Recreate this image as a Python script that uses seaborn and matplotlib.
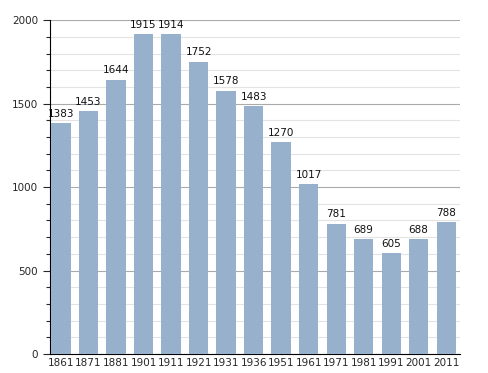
import matplotlib
matplotlib.use("Agg")
import matplotlib.pyplot as plt
import seaborn as sns
import pandas as pd
from matplotlib.ticker import MultipleLocator

years = ["1861", "1871", "1881", "1901", "1911", "1921", "1931", "1936",
         "1951", "1961", "1971", "1981", "1991", "2001", "2011"]
population = [1383, 1453, 1644, 1915, 1914, 1752, 1578, 1483,
              1270, 1017, 781, 689, 605, 688, 788]

df = pd.DataFrame({"year": years, "pop": population})

sns.set_style("white")
plt.rcParams['font.family'] = ['DejaVu Sans']

fig = plt.figure(figsize=(4.88, 3.73), dpi=100)
ax = fig.add_axes([0.1025, 0.051, 0.84, 0.895])

sns.barplot(x="year", y="pop", data=df, color="#97b0cc", width=0.7,
            saturation=1, ax=ax, linewidth=0, edgecolor="none")
for p in ax.patches:
    p.set_zorder(3)

for i, v in enumerate(population):
    ax.text(i, v + 25, str(v), ha="center", va="bottom", fontsize=7.5,
            color="#111111", zorder=4)

ax.set_ylim(0, 2000)
ax.set_xlim(-0.4, 14.5)
ax.yaxis.set_major_locator(MultipleLocator(500))
ax.yaxis.set_minor_locator(MultipleLocator(100))
ax.grid(which="major", axis="y", color="#aaaaaa", linewidth=0.8, zorder=0)
ax.grid(which="minor", axis="y", color="#e3e3e3", linewidth=0.8, zorder=0)
ax.set_axisbelow(True)
ax.tick_params(axis="y", which="major", length=5, width=0.8, labelsize=7.5, left=True, direction="out")
ax.tick_params(axis="y", which="minor", length=3, width=0.8, left=True, direction="out")
ax.tick_params(axis="x", length=0, labelsize=7.5, pad=3)
ax.set_xlabel("")
ax.set_ylabel("")
for s in ["top", "right"]:
    ax.spines[s].set_visible(False)
ax.spines["left"].set_color("black")
ax.spines["bottom"].set_color("black")

fig.savefig("out.png", dpi=100)
